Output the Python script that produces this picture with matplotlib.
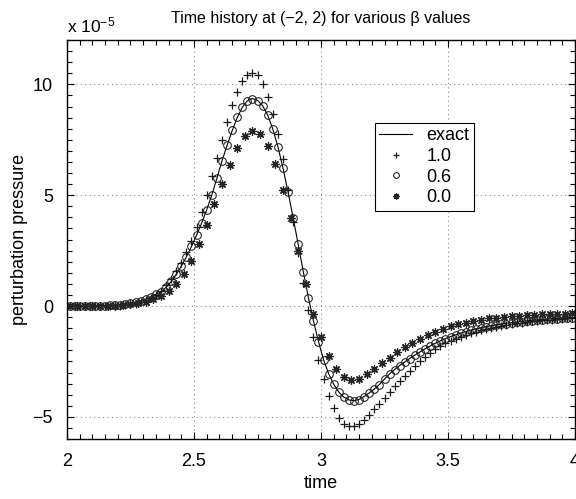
import matplotlib
matplotlib.use("Agg")
import matplotlib.pyplot as plt
from matplotlib.ticker import MultipleLocator

plt.rcParams['font.family'] = ['Liberation Sans', 'DejaVu Sans']
plt.rcParams['mathtext.fontset'] = 'custom'
plt.rcParams['mathtext.rm'] = 'Liberation Sans'
plt.rcParams['mathtext.it'] = 'Liberation Sans'

# pressure values are in units of 1e-5
# exact solution and beta = 0.6, 1.0 share the same sample times (2.01, 2.03, ... 3.99)
t_fine = [2.01, 2.03, 2.05, 2.07, 2.09, 2.11, 2.13, 2.15, 2.17, 2.19,
          2.21, 2.23, 2.25, 2.27, 2.29, 2.31, 2.33, 2.35, 2.37, 2.39,
          2.41, 2.43, 2.45, 2.47, 2.49, 2.51, 2.53, 2.55, 2.57, 2.59,
          2.61, 2.63, 2.65, 2.67, 2.69, 2.71, 2.73, 2.75, 2.77, 2.79,
          2.81, 2.83, 2.85, 2.87, 2.89, 2.91, 2.93, 2.95, 2.97, 2.99,
          3.01, 3.03, 3.05, 3.07, 3.09, 3.11, 3.13, 3.15, 3.17, 3.19,
          3.21, 3.23, 3.25, 3.27, 3.29, 3.31, 3.33, 3.35, 3.37, 3.39,
          3.41, 3.43, 3.45, 3.47, 3.49, 3.51, 3.53, 3.55, 3.57, 3.59,
          3.61, 3.63, 3.65, 3.67, 3.69, 3.71, 3.73, 3.75, 3.77, 3.79,
          3.81, 3.83, 3.85, 3.87, 3.89, 3.91, 3.93, 3.95, 3.97, 3.99]

exact = [0.00, 0.00, 0.00, 0.00, 0.00, 0.01, 0.01, 0.02, 0.03, 0.04,
         0.06, 0.08, 0.12, 0.16, 0.22, 0.30, 0.40, 0.52, 0.62, 0.84,
         1.10, 1.42, 1.80, 2.22, 2.68, 3.19, 3.74, 4.34, 5.00, 5.76,
         6.54, 7.24, 7.90, 8.50, 8.96, 9.26, 9.36, 9.28, 9.04, 8.62,
         7.99, 7.20, 6.24, 5.16, 4.00, 2.80, 1.56, 0.40, -0.66, -1.60,
         -2.42, -3.05, -3.53, -3.88, -4.11, -4.24, -4.27, -4.21, -4.08, -3.92,
         -3.74, -3.54, -3.30, -3.06, -2.86, -2.68, -2.52, -2.36, -2.21, -2.07,
         -1.93, -1.80, -1.68, -1.57, -1.47, -1.38, -1.30, -1.22, -1.15, -1.09,
         -1.03, -0.98, -0.93, -0.89, -0.85, -0.81, -0.78, -0.75, -0.72, -0.69,
         -0.67, -0.65, -0.63, -0.61, -0.59, -0.57, -0.56, -0.54, -0.53, -0.52]

beta_06 = [0.00, 0.00, 0.00, 0.00, 0.00, 0.01, 0.01, 0.02, 0.03, 0.04,
           0.06, 0.08, 0.12, 0.16, 0.22, 0.30, 0.40, 0.52, 0.63, 0.85,
           1.11, 1.43, 1.81, 2.23, 2.69, 3.20, 3.75, 4.35, 5.02, 5.78,
           6.56, 7.26, 7.92, 8.51, 8.96, 9.26, 9.35, 9.27, 9.03, 8.60,
           7.97, 7.18, 6.22, 5.14, 3.98, 2.78, 1.54, 0.38, -0.68, -1.62,
           -2.43, -3.06, -3.53, -3.88, -4.12, -4.25, -4.28, -4.22, -4.09, -3.93,
           -3.75, -3.55, -3.31, -3.07, -2.87, -2.69, -2.53, -2.37, -2.22, -2.08,
           -1.94, -1.81, -1.69, -1.58, -1.48, -1.39, -1.31, -1.23, -1.16, -1.10,
           -1.04, -0.99, -0.94, -0.90, -0.86, -0.82, -0.79, -0.76, -0.73, -0.70,
           -0.68, -0.66, -0.64, -0.62, -0.60, -0.58, -0.57, -0.55, -0.54, -0.53]

beta_10 = [0.00, 0.00, 0.00, 0.00, 0.00, 0.00, 0.00, 0.00, 0.00, 0.01,
           0.02, 0.04, 0.07, 0.11, 0.17, 0.25, 0.36, 0.51, 0.70, 0.94,
           1.22, 1.56, 1.96, 2.42, 2.95, 3.55, 4.25, 5.03, 5.86, 6.70,
           7.51, 8.30, 9.05, 9.65, 10.14, 10.44, 10.53, 10.41, 10.03, 9.43,
           8.65, 7.75, 6.62, 5.22, 3.80, 2.40, 1.05, -0.20, -1.40, -2.42,
           -3.30, -4.05, -4.62, -5.05, -5.30, -5.41, -5.42, -5.30, -5.12, -4.90,
           -4.66, -4.41, -4.15, -3.89, -3.63, -3.38, -3.14, -2.91, -2.69, -2.48,
           -2.29, -2.11, -1.95, -1.81, -1.68, -1.57, -1.47, -1.38, -1.30, -1.22,
           -1.15, -1.09, -1.03, -0.98, -0.93, -0.89, -0.85, -0.81, -0.78, -0.75,
           -0.72, -0.69, -0.67, -0.65, -0.63, -0.61, -0.59, -0.58, -0.56, -0.55]

# beta = 0.0 uses a coarser time step (2.01, 2.04, ... 3.99)
t_coarse = [2.01, 2.04, 2.07, 2.10, 2.13, 2.16, 2.19, 2.22, 2.25, 2.28,
            2.31, 2.34, 2.37, 2.40, 2.43, 2.46, 2.49, 2.52, 2.55, 2.58,
            2.61, 2.64, 2.67, 2.70, 2.73, 2.76, 2.79, 2.82, 2.85, 2.88,
            2.91, 2.94, 2.97, 3.00, 3.03, 3.06, 3.09, 3.12, 3.15, 3.18,
            3.21, 3.24, 3.27, 3.30, 3.33, 3.36, 3.39, 3.42, 3.45, 3.48,
            3.51, 3.54, 3.57, 3.60, 3.63, 3.66, 3.69, 3.72, 3.75, 3.78,
            3.81, 3.84, 3.87, 3.90, 3.93, 3.96, 3.99]

beta_00 = [0.00, 0.00, 0.00, 0.00, 0.00, 0.01, 0.02, 0.04, 0.07, 0.12,
           0.20, 0.31, 0.47, 0.70, 1.00, 1.45, 2.05, 2.82, 3.65, 4.58,
           5.50, 6.38, 7.13, 7.66, 7.90, 7.75, 7.24, 6.40, 5.25, 3.95,
           2.50, 1.00, -0.35, -1.42, -2.25, -2.83, -3.20, -3.33, -3.29, -3.08,
           -2.85, -2.58, -2.34, -2.09, -1.86, -1.67, -1.49, -1.31, -1.18, -1.03,
           -0.92, -0.82, -0.75, -0.67, -0.61, -0.56, -0.52, -0.48, -0.45, -0.43,
           -0.41, -0.39, -0.37, -0.36, -0.35, -0.34, -0.33]

x_ticks = [2, 2.5, 3, 3.5, 4]
x_tick_labels = ['2', '2.5', '3', '3.5', '4']
y_ticks = [-5, 0, 5, 10]
y_tick_labels = ['\u22125', '0', '5', '10']

fig = plt.figure(figsize=(5.76, 4.99), dpi=100)
ax = fig.add_axes([0.1163, 0.1202, 0.882, 0.7996])

ax.plot(t_fine, exact, '-', color='black', lw=0.8, label='exact')
ax.plot(t_fine, beta_10, linestyle='none', marker='+', ms=6, mew=0.9,
        color='0.1', label='1.0')
ax.plot(t_fine, beta_06, linestyle='none', marker='o', ms=5.5, mew=0.75,
        mfc='none', mec='0.1', label='0.6')
ax.plot(t_coarse, beta_00, linestyle='none', marker=(8, 2, 0), ms=6, mew=0.9,
        color='0.15', label='0.0')

ax.set_xlim(2, 4)
ax.set_ylim(-6, 12)
ax.set_xticks(x_ticks)
ax.set_xticklabels(x_tick_labels, fontsize=13)
ax.set_yticks(y_ticks)
ax.set_yticklabels(y_tick_labels, fontsize=13)
ax.xaxis.set_minor_locator(MultipleLocator(0.05))
ax.yaxis.set_minor_locator(MultipleLocator(0.5))
ax.tick_params(which='both', direction='in', top=True, right=True, width=0.8)
ax.tick_params(which='major', length=5, pad=10)
ax.tick_params(which='minor', length=3.5)
ax.grid(True, which='major', color='0.55', linestyle=(0, (1, 3)), linewidth=0.8)
for s in ax.spines.values():
    s.set_linewidth(1.0)

ax.set_xlabel('time', fontsize=13, labelpad=4)
ax.set_ylabel('perturbation pressure', fontsize=13, labelpad=3)
ax.set_title('Time history at (\u22122, 2) for various \u03b2 values', fontsize=11.5, pad=12)
ax.text(0.0, 1.012, r'x 10$^{\mathrm{-5}}$', transform=ax.transAxes,
        fontsize=12.5, ha='left', va='bottom')

leg = ax.legend(loc='upper left', bbox_to_anchor=(0.588, 0.815), fontsize=13,
                frameon=True, fancybox=False, edgecolor='black', framealpha=1,
                handlelength=1.8, markerscale=0.75, borderpad=0.25,
                labelspacing=0.2, handletextpad=0.8)
leg.get_frame().set_linewidth(0.8)

fig.savefig('out.png', dpi=100)
